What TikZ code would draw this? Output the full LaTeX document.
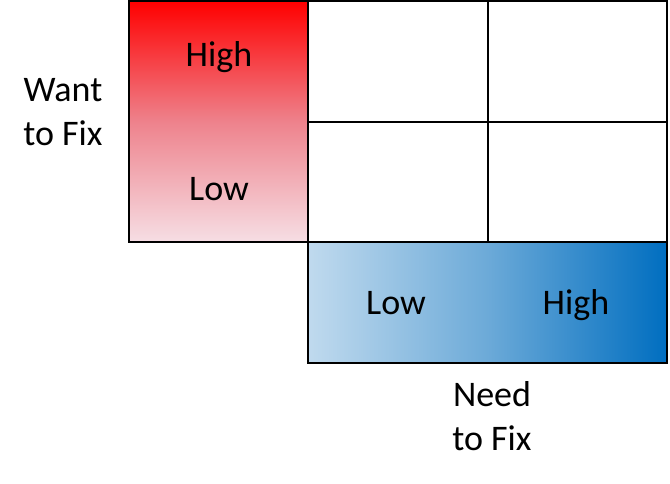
\documentclass[tikz,border=0pt]{standalone}
\usepackage{fontspec}
\setmainfont{Carlito}
\definecolor{rtop}{RGB}{255,0,0}
\definecolor{rmid}{RGB}{238,130,140}
\definecolor{rbot}{RGB}{246,222,228}
\definecolor{bleft}{RGB}{192,218,238}
\definecolor{bmid}{RGB}{108,170,216}
\definecolor{bright}{RGB}{0,110,192}
\begin{document}
\begin{tikzpicture}[x=0.75pt,y=-0.75pt,
  lbl/.style={font=\fontsize{27}{33}\selectfont, align=center, inner sep=0pt},
  word/.style={lbl, text height=0.68em, text depth=0.22em},
  frame/.style={draw=black, line width=1.5pt}]
\useasboundingbox (0,0) rectangle (670,484);
% red axis box
\shade[top color=rtop, bottom color=rbot, middle color=rmid] (129,1) rectangle (308,242);
\draw[frame] (129,1) rectangle (308,242);
% blue axis box
\shade[left color=bleft, right color=bright, middle color=bmid] (308,242) rectangle (667,363);
\draw[frame] (308,242) rectangle (667,363);
% grid
\draw[frame] (308,1) rectangle (667,242);
\coordinate (gt) at (488,1);
\coordinate (gb) at (488,242);
\coordinate (gl) at (308,122);
\coordinate (gr) at (667,122);
\draw[line width=1.2pt] (gt) -- (gb);
\draw[line width=1.2pt] (gl) -- (gr);
% labels
\node[word] (rh) at (219,63) {High};
\node[word] (rl) at (219,197) {Low};
\node[lbl] (want) at (63,112) {Want\\to Fix};
\node[word] (bl) at (396,311) {Low};
\node[word] (bh) at (576,311) {High};
\node[lbl] (need) at (492,416) {Need\\to Fix};
\end{tikzpicture}
\end{document}
